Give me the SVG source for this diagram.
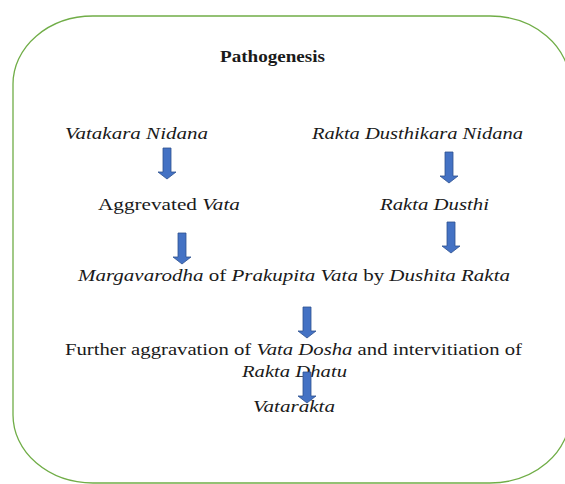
<svg xmlns="http://www.w3.org/2000/svg" width="565" height="484" viewBox="0 0 565 484">
<style>
.i{font-style:italic}
.b{font-weight:bold}
.arrow{fill:#4472c4;stroke:#2f528f;stroke-width:0.8}
</style>
<defs>
<path id="arr" d="M-4,0 H4 V24 H9 L0,31 L-9,24 H-4 Z"/>
</defs>
<rect x="13" y="16" width="557" height="467" rx="80" ry="68" fill="#fff" stroke="#70ad47" stroke-width="1.3"/>
<g font-family="Liberation Serif" font-size="17" fill="#1a1a1a">
<g id="title"><text class="b" x="220" y="62" font-size="16" textLength="105" lengthAdjust="spacingAndGlyphs">Pathogenesis</text></g>
<g id="n1"><text class="i" x="65" y="139" textLength="143" lengthAdjust="spacingAndGlyphs">Vatakara Nidana</text></g>
<g id="n2"><text class="i" x="312" y="139" textLength="211" lengthAdjust="spacingAndGlyphs">Rakta Dusthikara Nidana</text></g>
<g id="n3"><text x="98" y="210" textLength="142" lengthAdjust="spacingAndGlyphs">Aggrevated <tspan class="i">Vata</tspan></text></g>
<g id="n4"><text class="i" x="380" y="210" textLength="109" lengthAdjust="spacingAndGlyphs">Rakta Dusthi</text></g>
<g id="n5"><text x="78" y="281" textLength="432" lengthAdjust="spacingAndGlyphs"><tspan class="i">Margavarodha</tspan> of <tspan class="i">Prakupita Vata</tspan> by <tspan class="i">Dushita Rakta</tspan></text></g>
<g id="n6"><text x="65" y="355" textLength="457" lengthAdjust="spacingAndGlyphs">Further aggravation of <tspan class="i">Vata Dosha</tspan> and intervitiation of</text><text class="i" x="242" y="377" textLength="105" lengthAdjust="spacingAndGlyphs">Rakta Dhatu</text></g>
<g id="n7"><text class="i" x="253" y="412" textLength="82" lengthAdjust="spacingAndGlyphs">Vatarakta</text></g>
</g>
<g id="connectors">
<use href="#arr" class="arrow" x="167" y="148"/>
<use href="#arr" class="arrow" x="182" y="233"/>
<use href="#arr" class="arrow" x="449" y="152"/>
<use href="#arr" class="arrow" x="451" y="222"/>
<use href="#arr" class="arrow" x="307" y="307"/>
<use href="#arr" class="arrow" x="307" y="372"/>
</g>
</svg>
